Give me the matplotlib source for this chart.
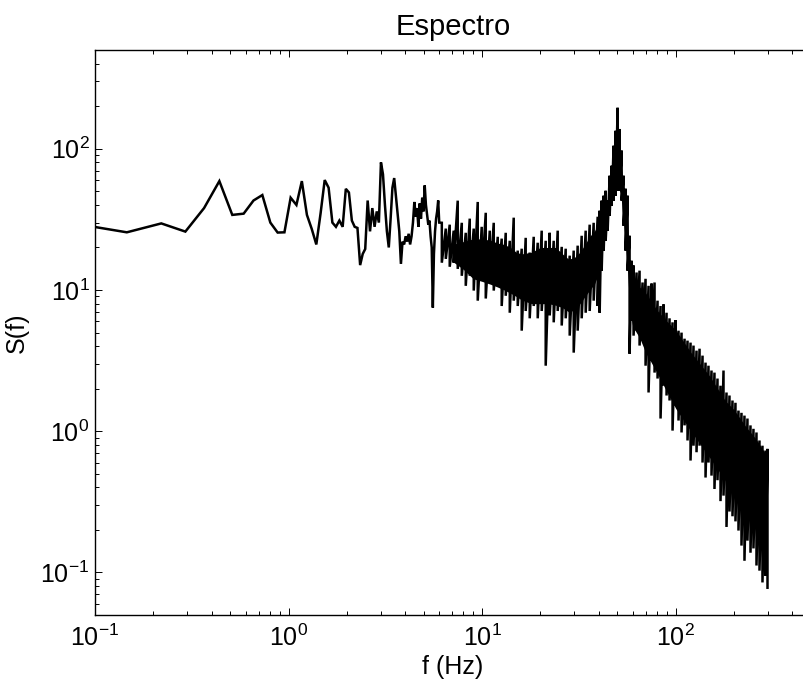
import numpy as np
import matplotlib
matplotlib.use("Agg")
import matplotlib.pyplot as plt
from matplotlib.ticker import LogLocator, LogFormatterMathtext, NullFormatter

plt.rcParams['font.family'] = ['Liberation Sans', 'DejaVu Sans']
plt.rcParams['mathtext.fontset'] = 'custom'
plt.rcParams['mathtext.rm'] = 'Liberation Sans'
plt.rcParams['mathtext.it'] = 'Liberation Sans:italic'
plt.rcParams['mathtext.bf'] = 'Liberation Sans:bold'

# Low-frequency FFT bins (Hz) and their spectral density
freq_bins = [0.073, 0.146, 0.220, 0.293, 0.366, 0.439, 0.512, 0.586, 0.659, 0.732,
             0.805, 0.878, 0.952, 1.025, 1.098, 1.171, 1.244, 1.318, 1.391, 1.464,
             1.537, 1.610, 1.684, 1.757, 1.830, 1.903, 1.976, 2.050, 2.123, 2.196,
             2.269, 2.343, 2.416, 2.489, 2.562, 2.635, 2.708, 2.782, 2.855, 2.928,
             3.001, 3.074, 3.147, 3.221, 3.294, 3.367, 3.440, 3.513, 3.587, 3.660,
             3.733, 3.806, 3.879, 3.953, 4.026, 4.099, 4.172, 4.245, 4.319, 4.392,
             4.465, 4.538, 4.611, 4.685, 4.758, 4.831, 4.904, 4.978, 5.051, 5.124,
             5.197, 5.270, 5.344, 5.417, 5.490, 5.563, 5.636, 5.710, 5.783, 5.856,
             5.929, 6.002]
spec_bins = [30.0, 25.6, 29.6, 25.9, 38.0, 59.0, 34.0, 34.7, 43.0, 47.0,
             30.0, 25.5, 25.6, 45.0, 40.0, 59.0, 34.0, 27.0, 21.0, 35.0,
             60.0, 53.0, 30.0, 28.0, 31.0, 28.0, 52.0, 49.0, 31.0, 28.0,
             27.5, 15.0, 18.0, 19.5, 43.0, 26.0, 38.0, 28.0, 36.0, 30.0,
             80.0, 66.0, 40.0, 26.0, 20.0, 32.0, 53.0, 62.0, 46.0, 35.0,
             26.0, 15.3, 22.0, 21.0, 24.0, 22.0, 25.0, 21.0, 24.0, 30.0,
             42.0, 33.0, 38.0, 28.0, 41.0, 32.0, 45.0, 36.0, 55.0, 40.0,
             34.0, 29.0, 31.0, 24.0, 20.0, 7.5, 18.0, 26.0, 32.0, 36.0,
             43.0, 30.0]

# Dense part of the spectrum: upper and lower excursions of the trace
freq_dense = [6.19, 6.49, 6.80, 7.13, 7.48, 7.85, 8.23, 8.63, 9.05, 9.49,
              9.95, 10.44, 10.95, 11.48, 12.04, 12.62, 13.24, 13.89, 14.56, 15.27,
              16.01, 16.79, 17.61, 18.47, 19.37, 20.31, 21.30, 22.34, 23.43, 24.57,
              25.77, 27.02, 28.34, 29.72, 31.16, 32.68, 34.27, 35.94, 37.69, 39.53,
              40.48, 41.45, 42.45, 43.47, 44.51, 45.58, 46.67, 47.79, 48.94, 50.11,
              51.32, 52.55, 53.81, 55.10, 56.42, 57.78, 59.16,
              60.58, 62.78, 65.06, 67.42, 69.87, 72.41, 75.04, 77.76, 80.58, 83.51,
              86.54, 89.68, 92.94, 96.31, 99.81, 103.4, 107.2, 111.1, 115.1, 119.3,
              123.6, 128.1, 132.8, 137.6, 142.6, 147.7, 153.1, 158.6, 164.4, 170.4,
              176.6, 183.0, 189.6, 196.5, 203.6, 211.0, 218.7, 226.6, 234.8, 243.4,
              252.2, 261.4, 270.9, 280.7, 290.9, 298.0]
spec_hi = [29.9, 27.2, 29.0, 26.3, 42.9, 29.9, 25.4, 32.0, 27.2, 42.0,
           28.0, 35.2, 26.3, 29.9, 23.8, 23.1, 25.4, 22.3, 32.5, 19.0,
           19.6, 23.4, 18.4, 23.8, 21.6, 26.3, 22.3, 25.4, 22.3, 26.3,
           20.2, 19.6, 17.5, 19.0, 20.6, 24.2, 26.3, 29.0, 29.9, 33.0,
           36.4, 42.9, 46.5, 50.4, 42.9, 64.4, 75.8, 105.0, 134.0, 195.0,
           138.0, 97.0, 64.4, 52.1, 46.5, 24.2, 16.1,
           14.9, 13.3, 13.7, 11.3, 12.0, 10.7, 11.1, 11.3, 8.4, 7.7,
           7.9, 6.9, 6.3, 5.9, 6.1, 5.15, 4.99, 4.52, 4.38, 4.24,
           4.04, 3.72, 3.84, 3.43, 3.06, 2.91, 2.69, 2.60, 2.36, 2.10,
           2.69, 1.88, 1.79, 1.65, 1.59, 1.40, 1.35, 1.29, 1.23, 1.10,
           1.04, 0.98, 0.86, 0.79, 0.73, 0.75]
spec_lo = [15.6, 16.6, 14.6, 15.6, 14.1, 12.6, 10.7, 12.6, 9.9, 8.4,
           11.6, 8.7, 11.3, 9.9, 10.7, 7.7, 9.1, 6.9, 8.4, 7.7,
           5.15, 7.1, 6.3, 7.7, 6.3, 7.1, 2.91, 6.6, 5.9, 7.1,
           5.6, 6.3, 4.75, 3.6, 5.15, 6.3, 6.9, 7.1, 8.4, 7.7,
           6.9, 13.7, 19.0, 22.3, 26.3, 33.6, 39.5, 42.9, 46.5, 50.4,
           50.4, 42.9, 28.5, 19.0, 13.7, 3.54, 6.1,
           4.75, 5.15, 4.04, 4.38, 2.91, 1.88, 3.16, 2.60, 2.36, 1.23,
           2.10, 1.79, 1.65, 1.01, 1.52, 1.19, 0.98, 1.10, 0.86, 0.62,
           0.79, 0.71, 0.79, 0.60, 0.47, 0.60, 0.485, 0.39, 0.45, 0.32,
           0.35, 0.21, 0.27, 0.25, 0.23, 0.198, 0.155, 0.121, 0.168, 0.138,
           0.148, 0.112, 0.103, 0.085, 0.095, 0.078]

# Where the dense trace overlaps into a solid band: its upper and lower edge
freq_core = [7.0, 8.0, 9.0, 10.0, 11.0, 12.0, 13.0, 14.0, 15.0,
             16.0, 18.0, 20.0, 22.0, 24.0, 26.0, 28.0, 30.0, 32.0, 34.0,
             36.0, 38.0, 40.0, 42.0, 44.0, 46.0, 48.0, 50.0, 52.0, 54.0,
             56.0, 58.0, 60.0, 65.0, 70.0, 80.0, 90.0, 100.0, 120.0, 150.0,
             180.0, 200.0, 230.0, 260.0, 298.0]
core_hi = [21.0, 22.0, 23.0, 23.0, 22.5, 21.5, 21.0, 20.0, 18.5,
           18.0, 18.5, 20.0, 20.0, 20.0, 18.0, 16.5, 17.0, 18.5, 21.0,
           24.0, 26.0, 30.0, 36.0, 40.0, 58.0, 90.0, 125.0, 85.0, 52.0,
           40.0, 15.0, 12.5, 10.5, 9.5, 7.2, 6.0, 5.2, 3.6, 2.45,
           1.65, 1.42, 1.08, 0.88, 0.66]
core_lo = [16.0, 14.0, 12.0, 11.5, 11.0, 10.5, 10.0, 9.5, 9.0,
           8.5, 8.0, 8.0, 8.0, 7.8, 7.5, 7.0, 7.2, 8.0, 9.0,
           10.0, 11.0, 13.0, 22.0, 30.0, 40.0, 48.0, 55.0, 48.0, 28.0,
           16.0, 7.0, 5.5, 4.6, 3.6, 2.6, 1.9, 1.45, 1.0, 0.65,
           0.45, 0.36, 0.27, 0.2, 0.13]

# the trace swings from each upper value to the lower one at the same bin
f_trace = np.concatenate([freq_bins, np.repeat(freq_dense, 2)])
s_trace = np.concatenate([spec_bins,
                          np.column_stack([spec_hi, spec_lo]).ravel()])

fig = plt.figure(figsize=(8.04, 6.90), dpi=100)
ax = fig.add_axes([95 / 804, 1 - 615 / 690, 716 / 804, 565 / 690])

ax.fill_between(freq_core, core_lo, core_hi, color='black', lw=0)
ax.loglog(f_trace, s_trace, color='black', lw=1.8, solid_joinstyle='miter')

ax.set_xlim(0.1, 500)
ax.set_ylim(0.05, 500)

for axis in (ax.xaxis, ax.yaxis):
    axis.set_major_locator(LogLocator(base=10, numticks=20))
    axis.set_major_formatter(LogFormatterMathtext())
    axis.set_minor_locator(LogLocator(base=10, subs=np.arange(2, 10), numticks=20))
    axis.set_minor_formatter(NullFormatter())

ax.tick_params(which='both', direction='in', top=True, right=True,
               labelsize=18, width=0.7, color='black')
ax.tick_params(which='major', length=5, pad=7)
ax.tick_params(axis='y', which='major', pad=4)
ax.tick_params(which='minor', length=3)
for sp in ax.spines.values():
    sp.set_linewidth(1.0)

ax.set_title('Espectro', fontsize=21, pad=11)
ax.set_xlabel('f (Hz)', fontsize=18, labelpad=3)
ax.set_ylabel('S(f)', fontsize=18, labelpad=8)

fig.savefig('out.png', dpi=100)
